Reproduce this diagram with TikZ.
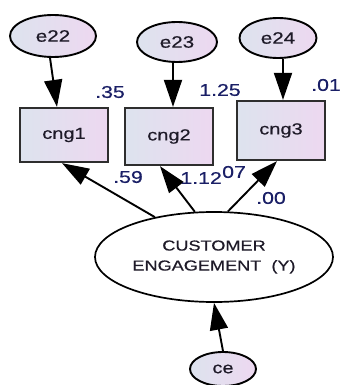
\documentclass[tikz,border=0pt]{standalone}
\usepackage{fontspec}
\setmainfont[FakeStretch=1.25,FakeBold=0.6]{Liberation Sans}
\usetikzlibrary{shapes.geometric,arrows.meta}
\definecolor{fillL}{HTML}{DDE3EE}
\definecolor{fillR}{HTML}{EDD8F0}
\definecolor{labc}{HTML}{1E1A28}
\definecolor{numc}{HTML}{1A1F66}
\definecolor{boxc}{HTML}{2E2E2E}
\begin{document}
\begin{tikzpicture}[x=1pt,y=-1pt,
  errvar/.style={ellipse, draw=black, line width=1.9pt, left color=fillL, right color=fillR,
    inner sep=0pt, text=labc, font=\fontsize{16.5}{18}\selectfont},
  obsvar/.style={rectangle, draw=boxc, line width=2.3pt, left color=fillL, right color=fillR,
    inner sep=0pt, minimum width=88pt, text=labc, font=\fontsize{16}{18}\selectfont},
  latent/.style={ellipse, draw=black, line width=1.7pt, fill=white, inner sep=0pt,
    minimum width=238pt, minimum height=90pt, align=center, text=labc,
    font=\fontsize{14.5}{20}\selectfont},
  coef/.style={inner sep=0pt, text=numc, font=\fontsize{17}{19}\selectfont},
  arr/.style={-{Triangle[length=27pt,width=18pt]}, line width=1.9pt}]
\useasboundingbox (0,0) rectangle (340,385);

% error terms
\node[errvar, minimum width=86pt, minimum height=42pt] (e22) at (53,36) {e22};
\node[errvar, minimum width=80pt, minimum height=40pt] (e23) at (177,42) {e23};
\node[errvar, minimum width=77pt, minimum height=40pt] (e24) at (278,38) {e24};

% observed indicators
\node[obsvar, minimum height=54pt] (cng1) at (64,135) {cng1};
\node[obsvar, minimum height=57pt] (cng2) at (169,136.5) {cng2};
\node[obsvar, minimum height=59pt] (cng3) at (281,130.5) {cng3};

% latent construct and its disturbance
\node[latent] (Y) at (214,257) {CUSTOMER\\ENGAGEMENT\ \ (Y)};
\node[errvar, minimum width=66pt, minimum height=34pt, font=\fontsize{16}{18}\selectfont] (ce) at (223,369) {ce};

% paths
\draw[arr] ([xshift=-3pt]e22.south) -- ([xshift=-7pt]cng1.north);
\draw[arr] ([xshift=-4pt]e23.south) -- ([xshift=4pt]cng2.north);
\draw[arr] ([xshift=5pt]e24.south) -- ([xshift=2pt]cng3.north);
\draw[arr] (Y.146) -- ([xshift=-2pt]cng1.south);
\draw[arr] (Y.113) -- ([xshift=-9pt]cng2.south);
\draw[arr] (Y.73) -- ([xshift=-4pt]cng3.south);
\draw[arr] (ce.north) -- (Y.south);

% estimates
\node[coef] (r1) at (110,92) {.35};
\node[coef] (r2) at (220,90) {1.25};
\node[coef] (r3) at (326,85) {.01};
\node[coef] (l1) at (128,177) {.59};
\node[coef, anchor=east] (l2) at (222,178) {1.12};
\node[coef, anchor=west] (l3) at (l2.east) [yshift=6pt] {07};
\node[coef] (l4) at (271,198) {.00};
\end{tikzpicture}
\end{document}
